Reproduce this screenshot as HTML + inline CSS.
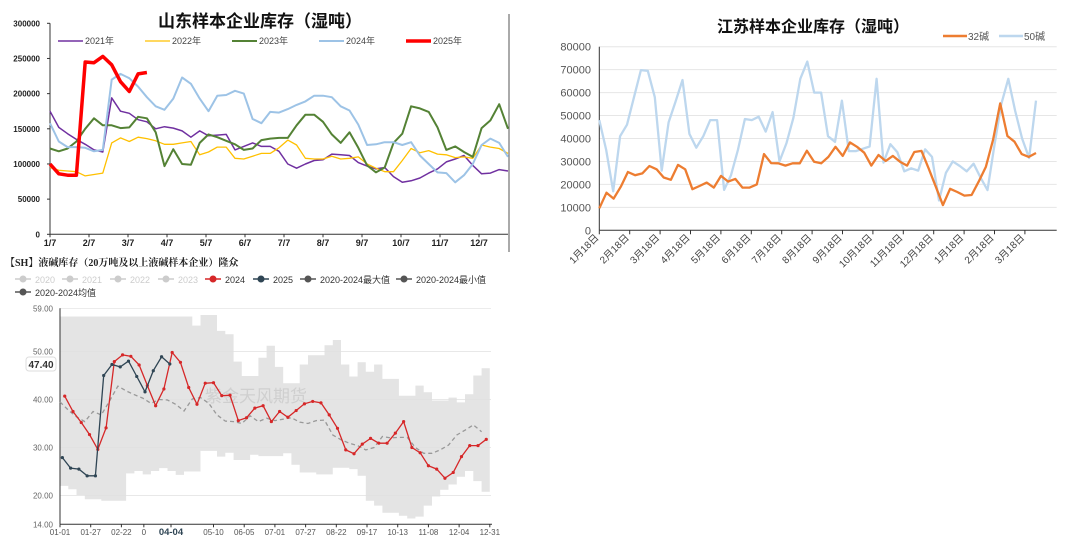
<!DOCTYPE html>
<html><head><meta charset="utf-8">
<style>
html,body{margin:0;padding:0;background:#fff;width:1080px;height:540px;overflow:hidden}
svg{display:block;font-family:"Liberation Sans","Noto Sans CJK SC",sans-serif}
</style></head>
<body>
<svg id="s" width="1080" height="540">
<g id="c1"></g>
<g id="c2"></g>
<g id="c3"></g>
</svg>
<script>
// ---------- Chart 1 data ----------
const c1Months = ["1/7","2/7","3/7","4/7","5/7","6/7","7/7","8/7","9/7","10/7","11/7","12/7"];
const c1Ticks = [0,50000,100000,150000,200000,250000,300000];
const c1Years = ["2021年","2022年","2023年","2024年","2025年"];
const s2021 = [175,152,143,135,128,120,117,194,175,172,163,160,150,153,151,147,138,147,140,141,142,120,125,130,125,125,118,100,94,100,105,106,114,113,112,102,97,93,95,82,74,76,80,87,93,103,107,112,98,86,87,92,90];
const s2022 = [95,91,90,89,83,85,87,130,137,132,138,136,133,128,128,130,132,113,117,124,124,108,107,111,115,115,123,134,127,108,107,107,111,107,108,110,100,94,89,89,105,122,116,119,114,113,109,110,108,127,124,122,115];
const s2023 = [122,118,122,132,150,165,155,155,151,152,167,165,145,97,121,100,99,130,142,138,133,128,120,122,134,136,137,137,155,170,170,160,142,130,145,123,98,88,95,130,143,182,179,174,152,120,125,117,110,151,162,185,150];
const s2024 = [158,132,124,124,123,118,120,220,228,222,210,195,182,177,193,223,214,193,175,197,198,204,200,164,158,174,173,178,184,189,197,197,195,182,176,156,127,128,131,131,127,131,112,100,88,87,74,84,100,127,136,130,110];
const s2025 = [100,86,84,84,245,244,253,241,217,203,228,230];
// ---------- Chart 2 data ----------
const c2Labels = ["1月18日","2月18日","3月18日","4月18日","5月18日","6月18日","7月18日","8月18日","9月18日","10月18日","11月18日","12月18日","1月18日","2月18日","3月18日"];
const c2Ticks = [0,10000,20000,30000,40000,50000,60000,70000,80000];
const s32 = [9.6,16.4,13.8,19,25.4,24,24.8,28,26.6,23,22,28.5,26.6,17.9,19.3,20.8,18.6,23.7,21.2,22.4,18.6,18.6,20,33.2,29.3,29.2,28.2,29.2,29.2,34.7,29.9,29.2,32,36.4,32.4,38.3,36.4,33.8,28.2,32.8,30.2,32.4,29.9,28.2,34.1,34.6,27,19,11,18.1,16.7,15.1,15.4,21.2,27.7,39.3,55.3,41.1,38.6,33.2,32,33.7];
const s50 = [48,35,17,41,46,58,69.8,69.5,58,26,47,56,65.5,42,36,41,48,48,17.6,24,35,48.5,48,49.5,43,51.5,30,38,49,66,73.5,60,60,41,38.5,56.5,34.5,34.5,35.5,36.5,66,29.5,37.5,34,25.7,27,26,35.3,32,13,25,30,28,25.7,29,23,17.5,37,55,66,52,40,31.5,56.5];
// ---------- Chart 3 data ----------
const c3XLabels = ["01-01","01-27","02-22","0","04-04","05-10","06-05","07-01","07-27","08-22","09-17","10-13","11-08","12-04","12-31"];
const c3XDays = [0,26,52,71,94,130,156,182,208,234,260,286,312,338,364];
const c3Ticks = [14,20,30,40,50,59];
const c3TickLabels = ["14.00","20.00","30.00","40.00","50.00","59.00"];
const v2024 = [40.7,37.5,35.2,32.7,29.6,34.1,47.9,49.3,49,47.2,42.9,38.7,42.2,49.8,47.75,42.5,39,43.4,43.5,40.8,40.9,35.6,36.2,38.2,38.7,35.4,37.5,36.3,37.7,39.1,39.6,39.3,36.8,34,29.5,28.7,30.7,31.9,30.9,30.9,33,35.4,30,28.9,26.2,25.5,23.6,24.8,28.1,30.4,30.4,31.7];
const v2025 = [27.9,25.7,25.5,24.1,24.1,45,47.3,46.8,48,44.8,41.6,46,48.9,47.4];
const vAvg = [39.5,37.8,36.4,35.4,37.5,36.8,39.7,42.8,41.8,41,40.3,39.2,40,39.9,39,37.6,40.1,40.4,39.2,36.8,35.5,35.4,35,36.6,35.4,36.1,35.6,35.9,36.2,35.3,35,35.6,35.7,32.6,31.6,30.9,30.4,29.5,30,32.3,32,32.1,32.1,30,28.8,28.8,29.5,30.5,32.6,33.6,34.7,33.3];
const vMax = [57.3,57.3,57.3,57.3,57.3,57.3,57.3,57.3,57.3,57.3,57.3,57.3,57.3,57.3,57.3,57.3,55.4,57.6,57.6,54.3,53.6,47.9,44.9,44.9,48.7,51.2,46.8,43.4,43.4,47.3,49.2,49.2,51.3,52.4,47.3,44.8,47.75,45.8,47.3,44.3,44.3,40.8,40.8,42.9,41.5,39.8,39.8,40.4,39.4,41.1,45,46.5];
const vMin = [22,21.3,20.1,19.2,19.2,18.9,18.9,18.9,24.6,25.1,24.4,25.1,25.7,25.1,24.3,25,25,29.3,29.3,28.1,28.9,27.4,27.4,28.5,28.2,28.2,28.2,28.8,26.4,24.8,24.8,24.4,24.4,25.8,25.8,25.5,24.1,18.9,17.9,16.4,16.4,15.8,15.2,15.6,17.9,19.8,21.2,22.3,23.9,25.1,23,20.8];

const NS="http://www.w3.org/2000/svg";
function mk(parent,tag,attrs,text){const e=document.createElementNS(NS,tag);for(const k in attrs)e.setAttribute(k,attrs[k]);if(text!==undefined)e.textContent=text;parent.appendChild(e);return e;}
function pathD(xs,ys){return xs.map((x,i)=>(i?'L':'M')+x.toFixed(1)+','+ys[i].toFixed(1)).join('');}

// ===== Chart 1 =====
(function(){
const g=document.getElementById('c1');
const X0=50,X1=508,Y0=234.3,Y1=23.3;
const x=i=>X0+i*(X1-X0)/52;
const y=v=>Y0-(v/300000)*(Y0-Y1);
let t=mk(g,'text',{x:260,y:27,'text-anchor':'middle','font-size':17,'font-weight':'bold',fill:'#111'},'山东样本企业库存（湿吨）');

let a=mk(g,'line',{x1:X0,y1:Y1,x2:X0,y2:Y0,stroke:'#333','stroke-width':1});

a=mk(g,'line',{x1:X0,y1:Y0,x2:X1,y2:Y0,stroke:'#333','stroke-width':1});

a=mk(g,'line',{x1:509,y1:14,x2:509,y2:252,stroke:'#555','stroke-width':1});

c1Ticks.forEach(v=>{const e=mk(g,'text',{x:40,y:y(v)+3,'text-anchor':'end','font-size':8,'font-weight':'bold',fill:'#222'},String(v));

mk(g,'line',{x1:X0-3,y1:y(v),x2:X0,y2:y(v),stroke:'#333'});});
c1Months.forEach((m,i)=>{const xx=X0+i*39;const e=mk(g,'text',{x:xx,y:246,'text-anchor':'middle','font-size':9,'font-weight':'bold',fill:'#222'},m);

mk(g,'line',{x1:xx,y1:Y0,x2:xx,y2:Y0+3,stroke:'#333'});});
const series=[[s2021,'#7030a0',1.5],[s2022,'#ffc000',1.3],[s2023,'#548235',2],[s2024,'#9dc3e6',2],[s2025,'#ff0000',3.5]];
series.forEach((s,k)=>{const p=mk(g,'path',{d:pathD(s[0].map((_,i)=>x(i)),s[0].map(v=>y(v*1000))),fill:'none',stroke:s[1],'stroke-width':s[2],'stroke-linejoin':'round'});

const lx=58+k*87;
const l=mk(g,'line',{x1:lx,y1:41,x2:lx+25,y2:41,stroke:s[1],'stroke-width':s[2]});

const lt=mk(g,'text',{x:lx+27,y:44,'font-size':9,fill:'#444'},c1Years[k]);
});
})();

// ===== Chart 2 =====
(function(){
const g=document.getElementById('c2');
const X0=599.3,X1=1056.7,XE=1036,Y0=230.3,Y1=46.7;
const y=v=>Y0-(v/80000)*(Y0-Y1);
let t=mk(g,'text',{x:813,y:32,'text-anchor':'middle','font-size':16,'font-weight':'bold',fill:'#111'},'江苏样本企业库存（湿吨）');

c2Ticks.forEach(v=>{if(v>0){const gl=mk(g,'line',{x1:X0,y1:y(v),x2:X1,y2:y(v),stroke:'#e6e6e6'});}
const e=mk(g,'text',{x:591,y:y(v)+4,'text-anchor':'end','font-size':11,fill:'#555'},String(v));
});
let a=mk(g,'line',{x1:X0,y1:Y1,x2:X0,y2:Y0,stroke:'#333'});
a=mk(g,'line',{x1:X0,y1:Y0,x2:X1,y2:Y0,stroke:'#333'});
c2Labels.forEach((l,i)=>{const xx=X0+i*30.4;mk(g,'line',{x1:xx,y1:Y0,x2:xx,y2:Y0+4,stroke:'#333'});
const e=mk(g,'text',{x:xx,y:Y0+8,'text-anchor':'end','font-size':10,fill:'#444',transform:`rotate(-45 ${xx} ${Y0+8})`},l);
});
[[s50,'#bdd7ee','50碱'],[s32,'#ed7d31','32碱']].forEach(s=>{const n=s[0].length;
const p=mk(g,'path',{d:pathD(s[0].map((_,i)=>X0+i*(XE-X0)/(n-1)),s[0].map(v=>y(v*1000))),fill:'none',stroke:s[1],'stroke-width':2.3,'stroke-linejoin':'round'});
});
[[943,'#ed7d31','32碱'],[999,'#bdd7ee','50碱']].forEach(l=>{const ln=mk(g,'line',{x1:l[0],y1:36,x2:l[0]+24,y2:36,stroke:l[1],'stroke-width':2.5});

const tt=mk(g,'text',{x:l[0]+25,y:40,'font-size':10,fill:'#555'},l[2]);});
})();

// ===== Chart 3 =====
(function(){
const g=document.getElementById('c3');
const X0=60,Y59=308.3,PU=4.8,DAY=431/365;
const y=v=>Y59+(59-v)*PU;
const xd=d=>X0+d*DAY;
let t=mk(g,'text',{x:5,y:266,'font-size':10,'font-weight':'bold',fill:'#222','font-family':'"Liberation Serif","Noto Serif CJK SC",serif'},'【SH】液碱库存（20万吨及以上液碱样本企业）隆众');

const leg=[['2020','#ccc',15,279,true],['2021','#ccc',62,279,true],['2022','#ccc',110,279,true],['2023','#ccc',158,279,true],['2024','#d62728',205,279,false],['2025','#2f4554',253,279,false],['2020-2024最大值','#555',300,279,false],['2020-2024最小值','#555',396,279,false],['2020-2024均值','#555',15,292,false]];
leg.forEach(l=>{const gg=mk(g,'g',{});
mk(gg,'line',{x1:l[2],y1:l[3],x2:l[2]+16,y2:l[3],stroke:l[1],'stroke-width':1.5});
mk(gg,'circle',{cx:l[2]+8,cy:l[3],r:3.5,fill:l[1]});
mk(gg,'text',{x:l[2]+20,y:l[3]+4,'font-size':9,fill:l[4]?'#ccc':'#333'},l[0]);});
// band
const n=vMax.length;let d='';
for(let i=0;i<n;i++){d+=(i?'L':'M')+xd(7*i).toFixed(1)+','+y(vMax[i]).toFixed(1)+'L'+xd(Math.min(7*i+7,365)).toFixed(1)+','+y(vMax[i]).toFixed(1);}
for(let i=n-1;i>=0;i--){d+='L'+xd(Math.min(7*i+7,365)).toFixed(1)+','+y(vMin[i]).toFixed(1)+'L'+xd(7*i).toFixed(1)+','+y(vMin[i]).toFixed(1);}
let band=mk(g,'path',{d:d+'Z',fill:'#e4e4e4'});
c3Ticks.forEach((v,i)=>{if(v>14){const gl=mk(g,'line',{x1:X0,y1:y(v),x2:491,y2:y(v),stroke:'#e0e0e0','stroke-width':0.7});}
const e=mk(g,'text',{x:53,y:y(v)+3,'text-anchor':'end','font-size':8,fill:'#666'},c3TickLabels[i]);
});
let a=mk(g,'line',{x1:X0,y1:Y59,x2:X0,y2:y(14),stroke:'#333'});
a=mk(g,'line',{x1:X0,y1:y(14),x2:492,y2:y(14),stroke:'#333'});
c3XLabels.forEach((l,i)=>{const xx=xd(c3XDays[i]);mk(g,'line',{x1:xx,y1:y(14),x2:xx,y2:y(14)+3,stroke:'#333'});
const bold=l==='04-04';
const e=mk(g,'text',{x:xx,y:535,'text-anchor':'middle','font-size':bold?9.5:8,'font-weight':bold?'bold':'normal',fill:bold?'#2f4554':'#555'},l);
});
let wm=mk(g,'text',{x:205,y:402,'font-size':17,fill:'#cfcfcf'},'紫金天风期货');
let p=mk(g,'path',{d:pathD(vAvg.map((_,i)=>xd(7*i)),vAvg.map(y)),fill:'none',stroke:'#999','stroke-width':1.3,'stroke-dasharray':'4,3'});

[[v2024,4,'#d62728','series-2024'],[v2025,2,'#2f4554','series-2025']].forEach(s=>{const xs=s[0].map((_,i)=>xd(s[1]+7*i)),ys=s[0].map(y);
const pp=mk(g,'path',{d:pathD(xs,ys),fill:'none',stroke:s[2],'stroke-width':1.3});
xs.forEach((xx,i)=>{const c=mk(g,'circle',{cx:xx,cy:ys[i],r:1.6,fill:s[2]});});});
const bx=mk(g,'g',{});
mk(bx,'rect',{x:26,y:y(47.4)-7,width:30,height:14,rx:3,fill:'#fff',stroke:'#ddd'});
mk(bx,'text',{x:41,y:y(47.4)+4,'text-anchor':'middle','font-size':10,'font-weight':'bold',fill:'#333'},'47.40');
})();
</script>
</body></html>
